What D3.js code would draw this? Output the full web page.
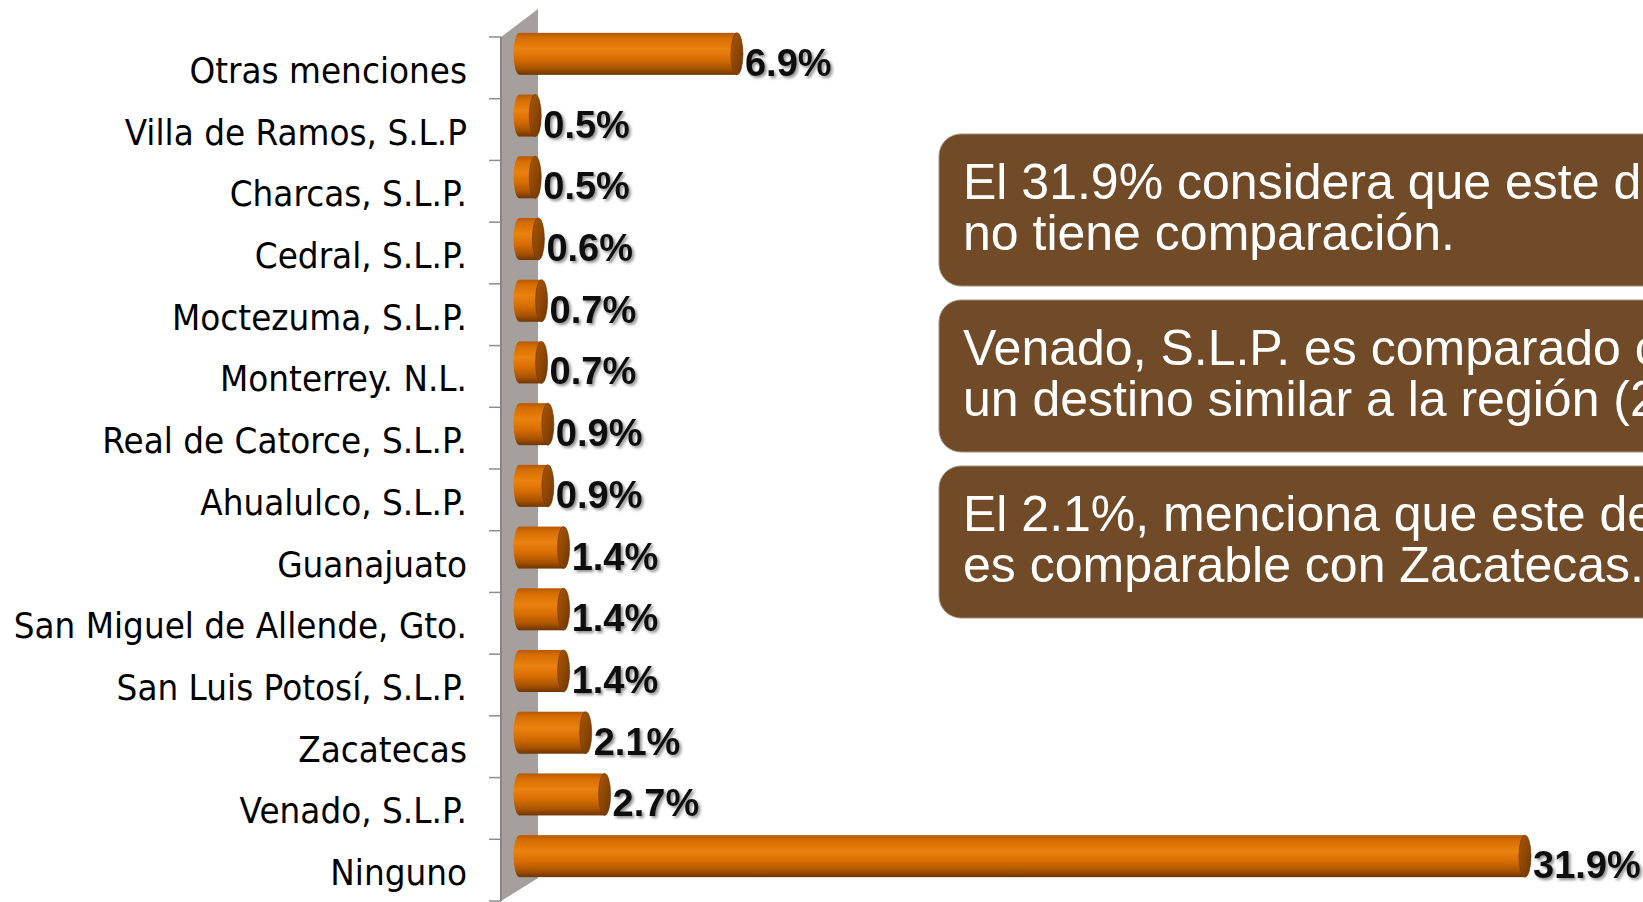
<!DOCTYPE html>
<html>
<head>
<meta charset="utf-8">
<script src="https://cdn.jsdelivr.net/npm/d3@7"></script>
<style>
  html, body { margin: 0; padding: 0; background: #ffffff; overflow: hidden; }
  #chart { width: 1643px; height: 902px; }
</style>
</head>
<body>
<div id="chart"></div>
<script>
// categories, top to bottom
const categories = [
  "Otras menciones",
  "Villa de Ramos, S.L.P",
  "Charcas, S.L.P.",
  "Cedral, S.L.P.",
  "Moctezuma, S.L.P.",
  "Monterrey. N.L.",
  "Real de Catorce, S.L.P.",
  "Ahualulco, S.L.P.",
  "Guanajuato",
  "San Miguel de Allende, Gto.",
  "San Luis Potosí, S.L.P.",
  "Zacatecas",
  "Venado, S.L.P.",
  "Ninguno"
];
const values = [6.9, 0.5, 0.5, 0.6, 0.7, 0.7, 0.9, 0.9, 1.4, 1.4, 1.4, 2.1, 2.7, 31.9];

// callout boxes on the right (they run past the right edge, as in the slide)
const notes = [
  ["El 31.9% considera que este destino", "no tiene comparación."],
  ["Venado, S.L.P. es comparado con", "un destino similar a la región (2.7%)."],
  ["El 2.1%, menciona que este destino", "es comparable con Zacatecas."]
];

const width = 1643;
const height = 902;

// front plane of the 3d axis, and the depth offset of the back wall
const axisX = 501;
const depth = { dx: 37, dy: -28 };

const svg = d3.select("#chart")
  .append("svg")
  .attr("width", width)
  .attr("height", height);

const defs = svg.append("defs");

// cylinder body gradient
const bodyGrad = defs.append("linearGradient")
  .attr("id", "body-grad")
  .attr("x1", 0).attr("y1", 0).attr("x2", 0).attr("y2", 1);
[
  [0, "#b65900"], [0.12, "#d66d00"], [0.38, "#ea8210"],
  [0.62, "#d86e02"], [0.85, "#a85300"], [1, "#6e3500"]
].forEach(s => bodyGrad.append("stop").attr("offset", s[0]).attr("stop-color", s[1]));

// end cap gradient
const capGrad = defs.append("linearGradient")
  .attr("id", "cap-grad")
  .attr("x1", 0).attr("y1", 0).attr("x2", 1).attr("y2", 1);
[[0, "#a85606"], [0.5, "#8f4704"], [1, "#6d3400"]]
  .forEach(s => capGrad.append("stop").attr("offset", s[0]).attr("stop-color", s[1]));

const shadow = defs.append("filter")
  .attr("id", "txt-shadow")
  .attr("x", "-10%").attr("y", "-20%").attr("width", "130%").attr("height", "150%");
shadow.append("feDropShadow")
  .attr("dx", 2).attr("dy", 2).attr("stdDeviation", 1.6)
  .attr("flood-color", "#000").attr("flood-opacity", 0.45);

// scales
const y = d3.scaleBand()
  .domain(categories)
  .range([37, 901])
  .paddingInner(0)
  .paddingOuter(0);

const x = d3.scaleLinear()
  .domain([0, 31.9])
  .range([axisX + depth.dx / 2, 1525]);

// back wall
const yTop = y.range()[0], yBottom = y.range()[1];
svg.append("path")
  .attr("d", `M${axisX},${yTop} L${axisX + depth.dx},${yTop + depth.dy} L${axisX + depth.dx},${yBottom + depth.dy + 5} L${axisX},${yBottom} Z`)
  .attr("fill", "#a59f9e");
svg.append("line")
  .attr("x1", axisX).attr("x2", axisX)
  .attr("y1", yTop).attr("y2", yBottom)
  .attr("stroke", "#8a8585").attr("stroke-width", 2);

// category axis on the front plane
const yAxis = d3.axisLeft(y).tickSize(0).tickPadding(0).tickFormat("");
svg.append("g")
  .attr("transform", `translate(${axisX},0)`)
  .call(yAxis)
  .call(g => g.select(".domain").remove());

// tick marks at the band edges
const edges = categories.map(c => y(c)).concat([yBottom]);
svg.append("g")
  .selectAll("line")
  .data(edges)
  .join("line")
  .attr("x1", axisX - 12).attr("x2", axisX)
  .attr("y1", d => d).attr("y2", d => d)
  .attr("stroke", "#8c8c8c").attr("stroke-width", 1.5);

// category labels (Tahoma-like: condensed DejaVu Sans)
svg.append("g")
  .selectAll("text")
  .data(categories)
  .join("text")
  .attr("transform", d => `translate(467, ${y(d) + y.bandwidth() / 2 + 15}) scale(0.91,1)`)
  .attr("text-anchor", "end")
  .style("font-family", "'DejaVu Sans', Verdana, sans-serif")
  .style("font-size", "36px")
  .style("fill", "#000")
  .text(d => d);

// bars as horizontal cylinders
const barH = 42;
const rx = 6;
const bars = svg.append("g")
  .selectAll("g")
  .data(categories.map((c, i) => ({ cat: c, v: values[i] })))
  .join("g")
  .attr("transform", d => `translate(0, ${y(d.cat) + y.bandwidth() / 2 + depth.dy / 2})`);

bars.append("ellipse")
  .attr("cx", x(0)).attr("cy", 0)
  .attr("rx", rx).attr("ry", barH / 2)
  .attr("fill", "url(#body-grad)");

bars.append("rect")
  .attr("x", x(0))
  .attr("y", -barH / 2)
  .attr("width", d => x(d.v) - x(0))
  .attr("height", barH)
  .attr("fill", "url(#body-grad)");

bars.append("ellipse")
  .attr("cx", d => x(d.v)).attr("cy", 0)
  .attr("rx", rx).attr("ry", barH / 2)
  .attr("fill", "url(#cap-grad)")
  .attr("stroke", "#6a3300").attr("stroke-width", 0.6);

// value labels
bars.append("text")
  .attr("x", d => x(d.v) + rx + 2)
  .attr("y", barH / 2 + 1)
  .style("font-family", "'Liberation Sans', Arial, sans-serif")
  .style("font-weight", "bold")
  .style("font-size", "38px")
  .style("fill", "#111")
  .attr("filter", "url(#txt-shadow)")
  .text(d => d3.format(".1f")(d.v) + "%");

// callout boxes
const boxes = svg.append("g")
  .selectAll("g")
  .data(notes)
  .join("g")
  .attr("transform", (d, i) => `translate(939, ${134 + i * 166})`);

boxes.append("rect")
  .attr("width", 900)
  .attr("height", 152)
  .attr("rx", 22).attr("ry", 22)
  .attr("fill", "#714b28")
  .attr("stroke", "#a88f7a").attr("stroke-width", 1);

boxes.append("text")
  .style("font-family", "'Liberation Sans', Arial, sans-serif")
  .style("font-size", "50px")
  .style("fill", "#fff")
  .selectAll("tspan")
  .data(d => d)
  .join("tspan")
  .attr("x", 24)
  .attr("y", (d, i) => 65 + i * 51)
  .text(d => d);
</script>
</body>
</html>
